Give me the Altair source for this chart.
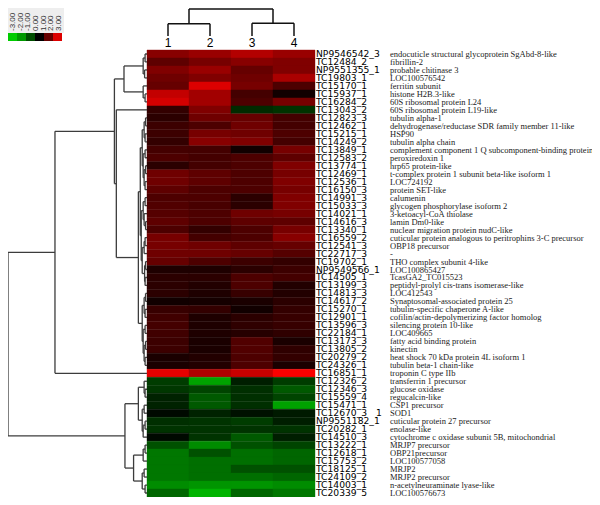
import altair as alt
import pandas as pd

# ---------------- data ----------------
col_labels = ["1", "2", "3", "4"]

ids = ["NP9546542_3", "TC12484_2", "NP9551355_1", "TC19803_1", "TC15170_1", "TC15937_1",
       "TC16284_2", "TC13043_2", "TC12823_3", "TC12462_1", "TC15215_1", "TC14249_2",
       "TC13849_1", "TC12583_2", "TC13774_1", "TC12469_1", "TC12536_1", "TC16150_3",
       "TC14991_3", "TC15033_3", "TC14021_1", "TC14616_3", "TC13340_1", "TC16559_2",
       "TC12541_3", "TC22717_3", "TC19702_1", "NP9549566_1", "TC14505_1", "TC13199_3",
       "TC14813_3", "TC14617_2", "TC15270_1", "TC12901_1", "TC13596_3", "TC22184_1",
       "TC13173_3", "TC13805_2", "TC20279_2", "TC24326_1", "TC16851_1", "TC12326_2",
       "TC12346_3", "TC15559_4", "TC15471_1", "TC12670_3\u00a0\u00a0\u00a01", "NP9551182_1", "TC20282_1",
       "TC14510_3", "TC13222_1", "TC12618_1", "TC15753_2", "TC18125_1", "TC24109_2",
       "TC14003_1", "TC20339_5"]

descs = ["endocuticle structural glycoprotein SgAbd-8-like", "fibrillin-2", "probable chitinase 3",
         "LOC100576542", "ferritin subunit", "histone H2B.3-like", "60S ribosomal protein L24",
         "60S ribosomal protein L19-like", "tubulin alpha-1",
         "dehydrogenase/reductase SDR family member 11-like", "HSP90", "tubulin alpha chain",
         "complement component 1 Q subcomponent-binding protein", "peroxiredoxin 1",
         "hrp65 protein-like", "t-complex protein 1 subunit beta-like isoform 1", "LOC724192",
         "protein SET-like", "calumenin", "glycogen phosphorylase isoform 2",
         "3-ketoacyl-CoA thiolase", "lamin Dm0-like", "nuclear migration protein nudC-like",
         "cuticular protein analogous to peritrophins 3-C precursor", "OBP18 precursor", "-",
         "THO complex subunit 4-like", "LOC100865427", "TcasGA2_TC015523",
         "peptidyl-prolyl cis-trans isomerase-like", "LOC412543",
         "Synaptosomal-associated protein 25", "tubulin-specific chaperone A-like",
         "cofilin/actin-depolymerizing factor homolog", "silencing protein 10-like", "LOC409665",
         "fatty acid binding protein", "kinectin", "heat shock 70 kDa protein 4L isoform 1",
         "tubulin beta-1 chain-like", "troponin C type IIb", "transferrin 1 precursor",
         "glucose oxidase", "regucalcin-like", "CSP1 precursor", "SOD1",
         "cuticular protein 27 precursor", "enolase-like",
         "cytochrome c oxidase subunit 5B, mitochondrial", "MRJP7 precursor", "OBP21precursor",
         "LOC100577058", "MRJP2", "MRJP2 precursor", "n-acetylneuraminate lyase-like",
         "LOC100576673"]

col1 = [1.6, 1.1, 1.5, 1.3, 1.2, 2.3, 2.5, 0.6, 0.5, 0.7, 0.7, 0.6, 0.8,
        0.9, 0.5, 1.3, 1.3, 1.1, 0.9, 0.95, 1.0, 1.1, 0.9, 1.4, 1.4, 1.3, 1.2, 0.35,
        0.5, 0.5, 0.5, 0.2, 0.65, 0.75, 0.8, 0.75, 0.7, 0.7, 0.3, 0.3, 2.7,
        -0.7, -0.65, -0.4, -0.4, -0.1, -0.55, -0.6, -0.1, -0.95, -1.4, -1.4, -1.4, -1.4, -1.65, -1.2]
col2 = [1.8, 1.4, 1.8, 1.5, 2.6, 1.9, 1.9, 1.5, 1.3, 0.9, 1.4, 1.6, 0.8,
        0.8, 0.8, 1.1, 1.1, 0.9, 0.9, 0.85, 0.9, 0.9, 0.6, 0.8, 1.3, 1.3, 0.9, 0.35,
        0.5, 0.4, 0.35, 0.25, 0.6, 0.35, 0.35, 0.35, 0.3, 0.3, 0.4, 0.4, 2.05,
        -1.9, -0.8, -1.05, -1.05, -0.4, -0.6, -0.6, -0.6, -1.65, -0.95, -1.3, -1.3, -1.3, -1.75, -2.1]
col3 = [2.1, 1.6, 1.2, 1.3, 1.4, 0.8, 0.9, -0.5, 1.2, 1.3, 1.3, 1.5, 0.2,
        0.9, 0.9, 0.9, 0.9, 0.9, 0.5, 0.5, 1.3, 1.1, 0.9, 0.9, 1.1, 1.2, 0.7, 0.5,
        0.9, 0.9, 0.65, 0.3, 0.2, 0.5, 0.55, 0.45, 0.95, 0.95, 0.9, 0.9, 2.35,
        -0.35, -0.55, -0.55, -0.55, -0.2, -0.7, -0.6, -1.05, -0.95, -1.3, -1.3, -0.95, -1.3, -1.75, -1.2]
col4 = [1.8, 1.5, 1.5, 2.0, 0.9, 0.2, 1.4, -0.6, 0.8, 0.8, 0.9, 0.8, 1.4,
        1.1, 1.5, 1.4, 1.5, 1.4, 1.5, 1.5, 1.4, 1.1, 1.4, 1.6, 1.2, 1.0, 0.6, 0.7,
        0.8, 0.4, 0.4, 0.5, 0.6, 0.65, 0.65, 0.55, 0.3, 0.55, 0.6, 0.3, 2.95,
        -0.7, -1.05, -0.8, -1.9, -0.3, -0.35, -0.6, -0.35, -0.8, -1.2, -1.2, -0.95, -1.2, -1.65, -1.4]

# row dendrogram: (height, left, right); leaves are row indices (0-based)
row_tree = (145,
    (96,
        (34,
            (24,
                (4, (2, 0, 1), (2.5, 2, 3)),
                (4, 4, (2, 5, 6))),
            (32,
                7,
                (9,
                    (7,
                        (5, (3, (1.5, 8, 9), (2, 10, 11)),
                            (4, (2, 12, 13), (3, (1.5, 14, 15), (2, 16, 17)))),
                        (6, (4, (2, 18, 19), (3, 20, (1.5, 21, 22))),
                            (5, (3, (2, 23, 24), 25), (2.5, (1.5, 26, 27), (2, 28, 29))))),
                    (5, (3, (1.5, 30, 31), (2, 32, 33)),
                        (4, (2, 34, 35), (3, (1.5, 36, 37), (2, 38, 39))))))),
        40),
    (23,
        (9, (3, 41, (2, 42, 43)), (5, (3, 44, 45), (4, (2, 46, 47), 48))),
        (14, (4, (2, 49, 50), 51), (5, (3, 52, 53), (2, 54, 55)))))

col_tree = (1.0, (0.45, 0, 1), (0.47, 2, 3))

key_values = [-2.4, -1.8, -0.9, 0.0, 1.2, 2.6]
key_labels = ["-3.00", "-2.00", "-1.00", "0.00", "1.00", "2.00", "3.00"]

# ---------------- tables ----------------
series = [col1, col2, col3, col4]
heat_rows = []
for ci, vals in enumerate(series):
    for ri, v in enumerate(vals):
        heat_rows.append({"c0": ci, "c1": ci + 1, "r0": ri, "r1": ri + 1, "v": v})
heat_df = pd.DataFrame(heat_rows)


def build(node, segs):
    if isinstance(node, int):
        return node + 0.5, 0.0
    h, l, r = node
    yl, hl = build(l, segs)
    yr, hr = build(r, segs)
    segs.append({"a": h, "a2": h, "b": yl, "b2": yr})
    segs.append({"a": hl, "a2": h, "b": yl, "b2": yl})
    segs.append({"a": hr, "a2": h, "b": yr, "b2": yr})
    return (yl + yr) / 2, h


rsegs = []
build(row_tree, rsegs)
row_seg_df = pd.DataFrame(rsegs)
csegs = []
build(col_tree, csegs)
col_seg_df = pd.DataFrame(csegs)

label_df = pd.DataFrame({"id": ids, "desc": descs, "r": [i + 0.5 for i in range(len(ids))]})
col_lab_df = pd.DataFrame({"lab": col_labels, "c": [i + 0.5 for i in range(4)]})
key_df = pd.DataFrame({"k0": list(range(6)), "k1": list(range(1, 7)), "v": key_values})
key_lab_df = pd.DataFrame({"lab": key_labels, "p": list(range(7))})

# ---------------- scales ----------------
N = len(ids)
hm_x = alt.Scale(domain=[0, 4], range=[139, 307], nice=False, zero=False)
hm_y = alt.Scale(domain=[0, N], range=[42, 489], nice=False, zero=False)
cscale = alt.Scale(domain=[-3, 0, 3], range=["#00ff00", "#000000", "#ff0000"], interpolate="rgb")

heat = alt.Chart(heat_df).mark_rect(strokeWidth=0.4).encode(
    x=alt.X("c0:Q", scale=hm_x, axis=None), x2="c1:Q",
    y=alt.Y("r0:Q", scale=hm_y, axis=None), y2="r1:Q",
    color=alt.Color("v:Q", scale=cscale, legend=None),
    stroke=alt.Stroke("v:Q", scale=cscale, legend=None),
)

row_dend = alt.Chart(row_seg_df).mark_rule(color="#3c3c3c", strokeWidth=1.3).encode(
    x=alt.X("a:Q", scale=alt.Scale(domain=[0, 145], range=[139, 0], nice=False, zero=False), axis=None),
    x2="a2:Q",
    y=alt.Y("b:Q", scale=hm_y, axis=None), y2="b2:Q",
)

col_dend = alt.Chart(col_seg_df).mark_rule(color="#111111", strokeWidth=1.5).encode(
    x=alt.X("b:Q", scale=hm_x, axis=None), x2="b2:Q",
    y=alt.Y("a:Q", scale=alt.Scale(domain=[0, 1], range=[28, 1], nice=False, zero=False), axis=None),
    y2="a2:Q",
)

col_text = alt.Chart(col_lab_df).mark_text(fontSize=12, font="Liberation Sans", color="#000",
                                           baseline="middle", align="center").encode(
    x=alt.X("c:Q", scale=hm_x, axis=None), y=alt.value(35), text="lab:N")

id_text = alt.Chart(label_df).mark_text(fontSize=9.2, font="DejaVu Sans", color="#000",
                                        align="left", baseline="middle").encode(
    x=alt.value(308), y=alt.Y("r:Q", scale=hm_y, axis=None), text="id:N")

desc_text = alt.Chart(label_df).mark_text(fontSize=8.5, font="Liberation Serif", color="#222",
                                          align="left", baseline="middle").encode(
    x=alt.value(382), y=alt.Y("r:Q", scale=hm_y, axis=None), text="desc:N")

key_bg = alt.Chart(pd.DataFrame({"a": [0], "b": [6]})).mark_rect(color="#eeeeee").encode(
    x=alt.X("a:Q", scale=alt.Scale(domain=[0, 6], range=[0, 56], nice=False, zero=False), axis=None),
    x2="b:Q", y=alt.value(0), y2=alt.value(25))

key = alt.Chart(key_df).mark_rect().encode(
    x=alt.X("k0:Q", scale=alt.Scale(domain=[0, 6], range=[0, 54], nice=False, zero=False), axis=None),
    x2="k1:Q", y=alt.value(25), y2=alt.value(33),
    color=alt.Color("v:Q", scale=cscale, legend=None),
)

key_text = alt.Chart(key_lab_df).mark_text(fontSize=8, font="Liberation Sans", color="#333",
                                           angle=270, align="left", baseline="middle").encode(
    x=alt.X("p:Q", scale=alt.Scale(domain=[0, 6], range=[5, 51], nice=False, zero=False), axis=None),
    y=alt.value(23), text="lab:N")

chart = alt.layer(key_bg, key, key_text, heat, row_dend, col_dend, col_text, id_text, desc_text).resolve_scale(
    x="independent", y="independent"
).properties(width=584, height=489, padding=0, autosize="none").configure_view(stroke=None)

chart.save("out.html", embed_options={"renderer": "svg", "actions": False})
